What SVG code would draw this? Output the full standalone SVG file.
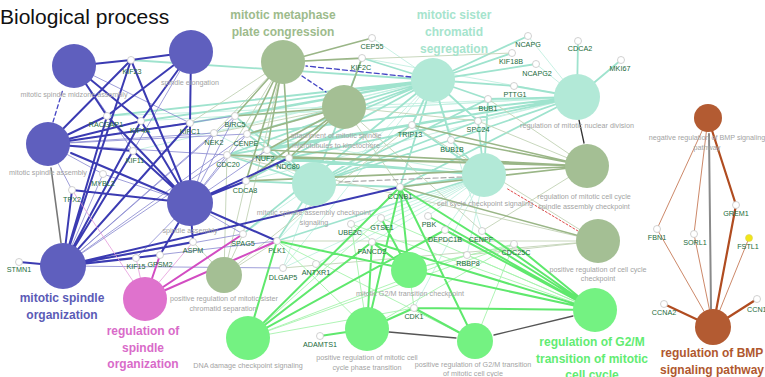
<svg xmlns="http://www.w3.org/2000/svg" width="765" height="377" viewBox="0 0 765 377">
<defs>
<marker id="ah" markerUnits="userSpaceOnUse" markerWidth="8" markerHeight="7" refX="8" refY="3.5" orient="auto"><path d="M0,0 L8,3.5 L0,7 z" fill="#222"/></marker>
</defs>
<style>
text{font-family:"Liberation Sans",Arial,sans-serif}
.g{font-size:7.2px;fill:#216a3a;text-anchor:middle}
.t{font-size:7.2px;fill:#a3a3a3;text-anchor:middle}
.b{font-size:12px;font-weight:bold;text-anchor:middle}
.gene{fill:#fff;stroke:#c4c4c4;stroke-width:0.8}
path,line{fill:none;stroke-linecap:round}
.mt{stroke:#9fe3ce;stroke-width:1.8}
.mn{stroke:#c2efe1;stroke-width:0.9}
.ot{stroke:#9ab687;stroke-width:1.6}
.on{stroke:#c2d2b6;stroke-width:0.9}
.gt{stroke:#5fe86d;stroke-width:2}
.gn{stroke:#a6f3ad;stroke-width:0.9}
.pt{stroke:#3b3bb2;stroke-width:2}
.pn{stroke:#8787cf;stroke-width:0.8}
.kt{stroke:#d24cc2;stroke-width:2}
.kn{stroke:#e59ada;stroke-width:0.8}
.bt{stroke:#b04c20;stroke-width:2.2}
.bn{stroke:#c67a58;stroke-width:0.9}
.pu{fill:#5f5fbe}.pk{fill:#df72cd}.ol{fill:#a4bf94}.mi{fill:#b2e9d7}.gr{fill:#74f282}.br{fill:#b35b32}
</style>
<rect width="765" height="377" fill="#fff"/>
<g id="connectors">
<path class="mn" d="M433 80L372 38M433 80L214 133M433 80L283 268M433 80L482 231M433 80L277 241M433 80L133 151M577 97L362 58M577 97L246 181M577 97L235 116M577 97L141 121M577 97L107 116M577 97L478 121M577 97L528 36M577 97L536 64M314 184L243 234M314 184L283 268M314 184L214 133M484 175L381 218M484 175L351 224M484 175L283 268M484 175L316 264M484 175L467 255M484 175L372 242M484 175L414 308M484 175L247 134M484 175L428 216M484 175L445 230"/>
<path class="mt" d="M433 80L528 36M433 80L512 53M433 80L536 64M433 80L514 86M433 80L488 99M433 80L478 121M433 80L451 140M433 80L412 125M433 80L400 187M433 80L289 158M433 80L267 150M433 80L247 134M433 80L246 181M433 80L235 116M433 80L362 58M433 80L227 155M433 80L190 123M433 80L131 60M433 80L107 116M433 80L141 121M433 80L243 234M577 97L578 41M577 97L621 60M577 97L488 99M577 97L514 86M577 97L451 140M577 97L412 125M577 97L400 187M577 97L289 158M577 97L227 155M577 97L247 134M577 97L267 150M314 184L451 140M314 184L412 125M314 184L400 187M314 184L289 158M314 184L267 150M314 184L247 134M314 184L227 155M314 184L488 99M314 184L478 121M314 184L277 241M314 184L246 181M314 184L235 116M314 184L362 58M484 175L451 140M484 175L412 125M484 175L400 187M484 175L488 99M484 175L227 155M484 175L478 121M484 175L289 158M484 175L277 241"/>
<path class="on" d="M283 62L190 123M283 62L227 155M283 62L243 234M283 62L214 133M283 62L512 53M344 107L478 121M344 107L482 231M344 107L400 187M344 107L214 133M587 166L478 121M587 166L482 231M587 166L488 99M598 241L412 125M598 241L277 241M598 241L227 155M598 241L467 255M598 241L283 268M224 275L227 155M224 275L243 234M224 275L277 241M224 275L246 181M224 275L412 125M224 275L193 242"/>
<path class="ot" d="M283 62L372 38M283 62L362 58M283 62L247 134M283 62L289 158M283 62L267 150M283 62L246 181M283 62L235 116M344 107L362 58M344 107L289 158M344 107L267 150M344 107L247 134M344 107L246 181M344 107L235 116M587 166L412 125M587 166L451 140M587 166L400 187M587 166L289 158M587 166L227 155M587 166L246 181M587 166L267 150M598 241L400 187"/>
<path class="gn" d="M595 310L467 255M595 310L381 218M595 310L351 224M409 270L414 308M409 270L467 255M409 270L514 244M409 270L351 224M248 338L467 255M248 338L514 244M248 338L414 308M248 338L381 218M367 329L277 241M367 329L514 244M367 329L351 224M475 341L514 244M475 341L277 241"/>
<path class="gt" d="M595 310L414 308M595 310L277 241M595 310L400 187M595 310L372 242M595 310L514 244M595 310L482 231M595 310L445 230M595 310L428 216M409 270L400 187M409 270L372 242M409 270L381 218M248 338L277 241M248 338L372 242M248 338L400 187M248 338L445 230M367 329L320 336M367 329L372 242M367 329L400 187M367 329L414 308M475 341L400 187M475 341L414 308"/>
<path class="pn" d="M74 66L190 123M74 66L133 151M191 52L133 151M48 144L103 174M48 144L72 190M48 144L214 133M48 144L247 134M48 144L235 116M48 144L227 155M190 203L214 133M190 203L247 134M190 203L235 116M190 203L267 150M190 203L227 155M190 203L243 234M190 203L103 174M190 203L136 258M63 266L214 133M63 266L247 134M63 266L103 174M63 266L283 268M63 266L243 234M63 266L277 241M63 266L235 116M63 266L227 155"/>
<path class="pt" d="M74 66L131 60M74 66L107 116M74 66L141 121M191 52L131 60M191 52L107 116M191 52L141 121M191 52L190 123M48 144L107 116M48 144L141 121M48 144L190 123M48 144L133 151M48 144L131 60M190 203L131 60M190 203L107 116M190 203L141 121M190 203L190 123M190 203L133 151M190 203L246 181M190 203L289 158M190 203L277 241M190 203L72 190M190 203L160 255M190 203L193 242M63 266L19 262M63 266L136 258M63 266L160 255M63 266L193 242M63 266L72 190M63 266L133 151M63 266L131 60M63 266L190 123M63 266L107 116M63 266L141 121M63 266L400 187"/>
<path class="kn" d="M145 299L72 190M145 299L136 258M145 299L193 242"/>
<path class="kt" d="M145 299L277 241M145 299L243 234M145 299L160 255"/>
<path class="bn" d="M708 118L657 229M708 118L694 234M713 327L657 229M713 327L694 234M713 327L749 238"/>
<path class="bt" d="M708 118L736 205M713 327L664 304M713 327L757 299M713 327L736 205"/>
<line x1="53" y1="122" x2="63" y2="89" stroke="#4444c4" stroke-width="1.3" stroke-dasharray="4 3" marker-end="url(#ah)"/>
<line x1="61" y1="243" x2="51" y2="168" stroke="#777" stroke-width="1.6" marker-end="url(#ah)"/>
<line x1="168" y1="194" x2="71" y2="153" stroke="#3b3bb2" stroke-width="2" marker-end="url(#ah)"/>
<line x1="411" y1="77" x2="306" y2="66" stroke="#4444c4" stroke-width="1.3" stroke-dasharray="5 3" marker-end="url(#ah)"/>
<line x1="302" y1="76" x2="326" y2="92" stroke="#4444c4" stroke-width="1.3" stroke-dasharray="4 3" marker-end="url(#ah)"/>
<line x1="462" y1="177" x2="339" y2="182" stroke="#aaa" stroke-width="1.2" stroke-dasharray="5 3" marker-end="url(#ah)"/>
<line x1="578" y1="231" x2="506" y2="188" stroke="#e04848" stroke-width="1" stroke-dasharray="2 2" marker-end="url(#ah)"/>
<line x1="579" y1="120" x2="584" y2="143" stroke="#333" stroke-width="1.3" marker-end="url(#ah)"/>
<line x1="711" y1="309" x2="709" y2="134" stroke="#8a8a8a" stroke-width="2" marker-end="url(#ah)"/>
<line x1="389" y1="332" x2="456" y2="338" stroke="#555" stroke-width="1.3" marker-end="url(#ah)"/>
<line x1="573" y1="316" x2="494" y2="335" stroke="#555" stroke-width="1.3" marker-end="url(#ah)"/>
</g>
<g id="title"><text x="0" y="24" font-size="21" fill="#111">Biological process</text></g>
<g id="n-msma"><circle class="pu" cx="74" cy="66" r="22"/><text class="t" x="74" y="96.5">mitotic spindle midzone assembly</text></g>
<g id="n-se"><circle class="pu" cx="191" cy="52" r="22"/><text class="t" x="190" y="84.5">spindle elongation</text></g>
<g id="n-msa"><circle class="pu" cx="48" cy="144" r="22"/><text class="t" x="48" y="174.5">mitotic spindle assembly</text></g>
<g id="n-sa"><circle class="pu" cx="190" cy="203" r="23"/><text class="t" x="190" y="232.5">spindle assembly</text></g>
<g id="n-mso"><circle class="pu" cx="63" cy="266" r="23"/><text class="b" x="62" y="302" fill="#5b5bb6">mitotic spindle</text><text class="b" x="62" y="318.5" fill="#5b5bb6">organization</text></g>
<g id="n-rso"><circle class="pk" cx="145" cy="299" r="22"/><text class="b" x="143" y="335" fill="#d96bc9">regulation of</text><text class="b" x="143" y="351.5" fill="#d96bc9">spindle</text><text class="b" x="143" y="368" fill="#d96bc9">organization</text></g>
<g id="n-mmpc"><circle class="ol" cx="283" cy="62" r="22"/><text class="b" x="283" y="19" fill="#9dbb8c">mitotic metaphase</text><text class="b" x="283" y="36" fill="#9dbb8c">plate congression</text></g>
<g id="n-att"><circle class="ol" cx="344" cy="107" r="22"/><text class="t" x="336" y="137.5">attachment of mitotic spindle</text><text class="t" x="336" y="147.5">microtubules to kinetochore</text></g>
<g id="n-rmcc"><circle class="ol" cx="587" cy="166" r="22"/><text class="t" x="584" y="198.5">regulation of mitotic cell cycle</text><text class="t" x="584" y="208.5">spindle assembly checkpoint</text></g>
<g id="n-prccc"><circle class="ol" cx="598" cy="241" r="22"/><text class="t" x="598" y="271.5">positive regulation of cell cycle</text><text class="t" x="598" y="280.5">checkpoint</text></g>
<g id="n-prmscs"><circle class="ol" cx="224" cy="275" r="18"/><text class="t" x="224" y="300.5">positive regulation of mitotic sister</text><text class="t" x="223" y="310.5">chromatid separation</text></g>
<g id="n-mscs"><circle class="mi" cx="433" cy="80" r="22"/><text class="b" x="454" y="19" fill="#a6e4cd">mitotic sister</text><text class="b" x="454" y="36" fill="#a6e4cd">chromatid</text><text class="b" x="454" y="53" fill="#a6e4cd">segregation</text></g>
<g id="n-rmnd"><circle class="mi" cx="577" cy="97" r="23"/><text class="t" x="577" y="127.5">regulation of mitotic nuclear division</text></g>
<g id="n-msac"><circle class="mi" cx="314" cy="184" r="22"/><text class="t" x="314" y="214.5">mitotic spindle assembly checkpoint</text><text class="t" x="314" y="224.5">signaling</text></g>
<g id="n-cccs"><circle class="mi" cx="484" cy="175" r="22"/><text class="t" x="485" y="205.5">cell cycle checkpoint signaling</text></g>
<g id="n-g2mc"><circle class="gr" cx="409" cy="270" r="18"/><text class="t" x="410" y="295.5">mitotic G2/M transition checkpoint</text></g>
<g id="n-dna"><circle class="gr" cx="248" cy="338" r="22"/><text class="t" x="248" y="367.5">DNA damage checkpoint signaling</text></g>
<g id="n-prmccpt"><circle class="gr" cx="367" cy="329" r="22"/><text class="t" x="367" y="359.5">positive regulation of mitotic cell</text><text class="t" x="367" y="369.5">cycle phase transition</text></g>
<g id="n-prg2m"><circle class="gr" cx="475" cy="341" r="18"/><text class="t" x="473" y="366.5">positive regulation of G2/M transition</text><text class="t" x="473" y="375.5">of mitotic cell cycle</text></g>
<g id="n-rg2m"><circle class="gr" cx="595" cy="310" r="22"/><text class="b" x="592" y="346" fill="#62ec72">regulation of G2/M</text><text class="b" x="592" y="362.5" fill="#62ec72">transition of mitotic</text><text class="b" x="592" y="379" fill="#62ec72">cell cycle</text></g>
<g id="n-nbmp"><circle class="br" cx="708" cy="118" r="14"/><text class="t" x="707" y="139.5">negative regulation of BMP signaling</text><text class="t" x="707" y="149.5">pathway</text></g>
<g id="n-rbmp"><circle class="br" cx="713" cy="327" r="18"/><text class="b" x="712" y="357" fill="#b0582e">regulation of BMP</text><text class="b" x="712" y="373.5" fill="#b0582e">signaling pathway</text></g>
<g id="genes">
<g id="g-kif23"><circle class="gene" cx="131" cy="60" r="3.5"/><text class="g" x="132" y="73.5">KIF23</text></g>
<g id="g-racgap1"><circle class="gene" cx="107" cy="116" r="3.5"/><text class="g" x="106" y="126.5">RACGAP1</text></g>
<g id="g-kif4a"><circle class="gene" cx="141" cy="121" r="3.5"/><text class="g" x="140" y="132.5">KIF4A</text></g>
<g id="g-kifc1"><circle class="gene" cx="190" cy="123" r="3.5"/><text class="g" x="190" y="133.5">KIFC1</text></g>
<g id="g-kif11"><circle class="gene" cx="133" cy="151" r="3.5"/><text class="g" x="135" y="162.5">KIF11</text></g>
<g id="g-mybl2"><circle class="gene" cx="103" cy="174" r="3.5"/><text class="g" x="103" y="185.5">MYBL2</text></g>
<g id="g-tpx2"><circle class="gene" cx="72" cy="190" r="3.5"/><text class="g" x="72" y="201.5">TPX2</text></g>
<g id="g-birc5"><circle class="gene" cx="235" cy="116" r="3.5"/><text class="g" x="235" y="126.5">BIRC5</text></g>
<g id="g-nek2"><circle class="gene" cx="214" cy="133" r="3.5"/><text class="g" x="214" y="144.5">NEK2</text></g>
<g id="g-cenpe"><circle class="gene" cx="247" cy="134" r="3.5"/><text class="g" x="246" y="145.5">CENPE</text></g>
<g id="g-cdc20"><circle class="gene" cx="227" cy="155" r="3.5"/><text class="g" x="228" y="166.5">CDC20</text></g>
<g id="g-nuf2"><circle class="gene" cx="267" cy="150" r="3.5"/><text class="g" x="265" y="160.5">NUF2</text></g>
<g id="g-ndc80"><circle class="gene" cx="289" cy="158" r="3.5"/><text class="g" x="288" y="168.5">NDC80</text></g>
<g id="g-cdca8"><circle class="gene" cx="246" cy="181" r="3.5"/><text class="g" x="245" y="192.5">CDCA8</text></g>
<g id="g-spag5"><circle class="gene" cx="243" cy="234" r="3.5"/><text class="g" x="243" y="245.5">SPAG5</text></g>
<g id="g-plk1"><circle class="gene" cx="277" cy="241" r="3.5"/><text class="g" x="277" y="252.5">PLK1</text></g>
<g id="g-aspm"><circle class="gene" cx="193" cy="242" r="3.5"/><text class="g" x="193" y="252.5">ASPM</text></g>
<g id="g-gpsm2"><circle class="gene" cx="160" cy="255" r="3.5"/><text class="g" x="160" y="266.5">GPSM2</text></g>
<g id="g-kif15"><circle class="gene" cx="136" cy="258" r="3.5"/><text class="g" x="136" y="268.5">KIF15</text></g>
<g id="g-stmn1"><circle class="gene" cx="19" cy="262" r="3.5"/><text class="g" x="19" y="271.5">STMN1</text></g>
<g id="g-dlgap5"><circle class="gene" cx="283" cy="268" r="3.5"/><text class="g" x="283" y="279.5">DLGAP5</text></g>
<g id="g-antxr1"><circle class="gene" cx="316" cy="264" r="3.5"/><text class="g" x="316" y="274.5">ANTXR1</text></g>
<g id="g-adamts1"><circle class="gene" cx="320" cy="336" r="3.5"/><text class="g" x="320" y="346.5">ADAMTS1</text></g>
<g id="g-fancd2"><circle class="gene" cx="372" cy="242" r="3.5"/><text class="g" x="372" y="253.5">FANCD2</text></g>
<g id="g-ube2c"><circle class="gene" cx="351" cy="224" r="3.5"/><text class="g" x="350" y="234.5">UBE2C</text></g>
<g id="g-gtse1"><circle class="gene" cx="381" cy="218" r="3.5"/><text class="g" x="382" y="229.5">GTSE1</text></g>
<g id="g-ccnb1"><circle class="gene" cx="400" cy="187" r="3.5"/><text class="g" x="400" y="198.5">CCNB1</text></g>
<g id="g-trip13"><circle class="gene" cx="412" cy="125" r="3.5"/><text class="g" x="410" y="136.5">TRIP13</text></g>
<g id="g-spc24"><circle class="gene" cx="478" cy="121" r="3.5"/><text class="g" x="478" y="131.5">SPC24</text></g>
<g id="g-bub1b"><circle class="gene" cx="451" cy="140" r="3.5"/><text class="g" x="452" y="151.5">BUB1B</text></g>
<g id="g-bub1"><circle class="gene" cx="488" cy="99" r="3.5"/><text class="g" x="488" y="110.5">BUB1</text></g>
<g id="g-pttg1"><circle class="gene" cx="514" cy="86" r="3.5"/><text class="g" x="515" y="96.5">PTTG1</text></g>
<g id="g-ncapg2"><circle class="gene" cx="536" cy="64" r="3.5"/><text class="g" x="537" y="75.5">NCAPG2</text></g>
<g id="g-kif18b"><circle class="gene" cx="512" cy="53" r="3.5"/><text class="g" x="511" y="63.5">KIF18B</text></g>
<g id="g-ncapg"><circle class="gene" cx="528" cy="36" r="3.5"/><text class="g" x="528" y="46.5">NCAPG</text></g>
<g id="g-cdca2"><circle class="gene" cx="578" cy="41" r="3.5"/><text class="g" x="580" y="50.5">CDCA2</text></g>
<g id="g-mki67"><circle class="gene" cx="621" cy="60" r="3.5"/><text class="g" x="620" y="70.5">MKI67</text></g>
<g id="g-cep55"><circle class="gene" cx="372" cy="38" r="3.5"/><text class="g" x="372" y="48.5">CEP55</text></g>
<g id="g-kif2c"><circle class="gene" cx="362" cy="58" r="3.5"/><text class="g" x="361" y="69.5">KIF2C</text></g>
<g id="g-pbk"><circle class="gene" cx="428" cy="216" r="3.5"/><text class="g" x="429" y="226.5">PBK</text></g>
<g id="g-depdc1b"><circle class="gene" cx="445" cy="230" r="3.5"/><text class="g" x="445" y="241.5">DEPDC1B</text></g>
<g id="g-cenpf"><circle class="gene" cx="482" cy="231" r="3.5"/><text class="g" x="481" y="241.5">CENPF</text></g>
<g id="g-cdc25c"><circle class="gene" cx="514" cy="244" r="3.5"/><text class="g" x="516" y="254.5">CDC25C</text></g>
<g id="g-rbbp8"><circle class="gene" cx="467" cy="255" r="3.5"/><text class="g" x="468" y="265.5">RBBP8</text></g>
<g id="g-cdk1"><circle class="gene" cx="414" cy="308" r="3.5"/><text class="g" x="414" y="318.5">CDK1</text></g>
<g id="g-fbn1"><circle class="gene" cx="657" cy="229" r="3.5"/><text class="g" x="657" y="239.5">FBN1</text></g>
<g id="g-sorl1"><circle class="gene" cx="694" cy="234" r="3.5"/><text class="g" x="695" y="244.5">SORL1</text></g>
<g id="g-grem1"><circle class="gene" cx="736" cy="205" r="3.5"/><text class="g" x="736" y="215.5">GREM1</text></g>
<g id="g-fstl1"><circle cx="749" cy="238" r="3.5" fill="#f2e617" stroke="#d8d060" stroke-width="0.6"/><text class="g" x="748" y="248.5">FSTL1</text></g>
<g id="g-ccna2"><circle class="gene" cx="664" cy="304" r="3.5"/><text class="g" x="664" y="314.5">CCNA2</text></g>
<g id="g-ccn1"><circle class="gene" cx="757" cy="299" r="3.5"/><text class="g" x="747" y="311.5" style="text-anchor:start">CCN1</text></g>
</g>
</svg>
